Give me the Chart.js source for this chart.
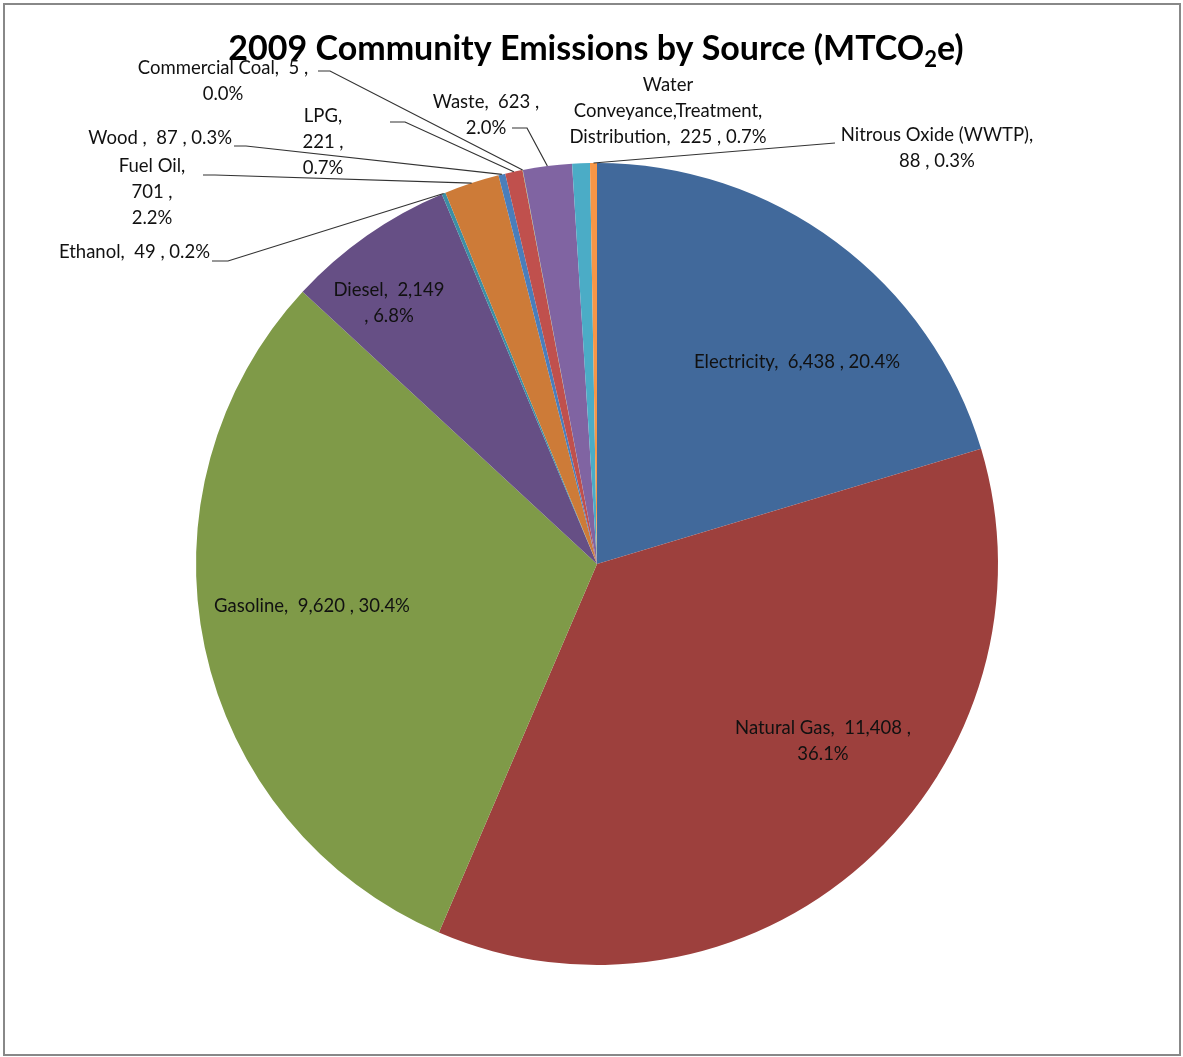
<!DOCTYPE html>
<html>
<head>
<meta charset="utf-8">
<script src="https://cdn.jsdelivr.net/npm/chart.js"></script>
<style>
    body { margin: 0; background: #ffffff; }
    #wrap { width: 1183px; height: 1057px; }
</style>
</head>
<body>
<div id="wrap"><canvas id="emissionsChart" width="1183" height="1057"></canvas></div>
<script>

// ==========================
// Data
// ==========================

const sources = [
    "Electricity", "Natural Gas", "Gasoline", "Diesel", "Ethanol", "Fuel Oil",
    "Wood", "LPG", "Commercial Coal", "Waste",
    "Water Conveyance,Treatment, Distribution", "Nitrous Oxide (WWTP)"
];

const emissions = [6438, 11408, 9620, 2149, 49, 701, 87, 221, 5, 623, 225, 88];

const sliceColors = [
    "#41699b", "#9d403d", "#7f9a48", "#664f85", "#3c8fa5", "#cd7b38",
    "#4a7ebb", "#c0504d", "#9bbb59", "#8064a2", "#4bacc6", "#f79646"
];

// ==========================
// Label layout (text placement only)
// ==========================

const labelFont = "18.5px Lato";
const lineGap = 26;

const labelLayout = [
    { tpl: "{n},  {v} , {p}",       x: 797, y: 362, align: "center" },
    { tpl: "{n},  {v} ,\n{p}",      x: 823, y: 728, align: "center" },
    { tpl: "{n},  {v} , {p}",       x: 312, y: 606, align: "center" },
    { tpl: "{n},  {v}\n, {p}",      x: 389, y: 290, align: "center" },
    { tpl: "{n},  {v} , {p}",       x: 210, y: 252, align: "right",  leader: [[212, 261], [228, 261]] },
    { tpl: "{n},\n{v} ,\n{p}",      x: 152, y: 166, align: "center", leader: [[203, 175], [215, 175]] },
    { tpl: "{n} ,  {v} , {p}",      x: 232, y: 138, align: "right",  leader: [[234, 146], [246, 146]] },
    { tpl: "{n},\n{v} ,\n{p}",      x: 323, y: 116, align: "center", leader: [[390, 122], [405, 122]] },
    { tpl: "{n},  {v} ,\n{p}",      x: 223, y: 68,  align: "center", leader: [[318, 71], [330, 71]] },
    { tpl: "{n},  {v} ,\n{p}",      x: 486, y: 102, align: "center", leader: [[512, 128], [527, 128]] },
    { tpl: "{w0}\n{w1}\n{w2},  {v} , {p}", x: 668, y: 85, align: "center" },
    { tpl: "{n},\n{v} , {p}",       x: 937, y: 135, align: "center", leader: [[835, 143]] }
];

const total = emissions.reduce((sum, v) => sum + v, 0);

function labelLines(i) {
    const words = sources[i].split(" ");
    const text = labelLayout[i].tpl
        .replace("{n}", sources[i])
        .replace("{v}", emissions[i].toLocaleString("en-US"))
        .replace("{p}", (emissions[i] / total * 100).toFixed(1) + "%")
        .replace("{w0}", words[0])
        .replace("{w1}", words[1])
        .replace("{w2}", words[2]);
    return text.split("\n");
}

// ==========================
// Plugin: frame, title, labels
// ==========================

const decorations = {
    id: "decorations",
    afterDraw(chart) {
        const ctx = chart.ctx;
        ctx.save();

        // frame
        ctx.strokeStyle = "#888888";
        ctx.lineWidth = 2;
        ctx.strokeRect(4, 4, 1176, 1051);

        // title with subscript
        const mainPart = "2009 Community Emissions by Source (MTCO";
        const subPart = "2";
        const endPart = "e)";
        ctx.fillStyle = "#000000";
        ctx.textBaseline = "alphabetic";
        ctx.font = "bold 34px Lato";
        const w1 = ctx.measureText(mainPart).width;
        const w3 = ctx.measureText(endPart).width;
        ctx.font = "bold 22px Lato";
        const w2 = ctx.measureText(subPart).width;
        let tx = 596 - (w1 + w2 + w3) / 2;
        ctx.textAlign = "left";
        ctx.font = "bold 34px Lato";
        ctx.fillText(mainPart, tx, 60);
        tx += w1;
        ctx.font = "bold 22px Lato";
        ctx.fillText(subPart, tx, 67);
        tx += w2;
        ctx.font = "bold 34px Lato";
        ctx.fillText(endPart, tx, 60);

        // leader lines
        const arcs = chart.getDatasetMeta(0).data;
        ctx.strokeStyle = "#333333";
        ctx.lineWidth = 1.2;
        labelLayout.forEach((lay, i) => {
            if (!lay.leader) return;
            const arc = arcs[i].getProps(["x", "y", "startAngle", "endAngle", "outerRadius"], true);
            const mid = (arc.startAngle + arc.endAngle) / 2;
            const ex = arc.x + Math.cos(mid) * arc.outerRadius;
            const ey = arc.y + Math.sin(mid) * arc.outerRadius;
            ctx.beginPath();
            ctx.moveTo(lay.leader[0][0], lay.leader[0][1]);
            lay.leader.slice(1).forEach(p => ctx.lineTo(p[0], p[1]));
            ctx.lineTo(ex, ey);
            ctx.stroke();
        });

        // label text
        ctx.font = labelFont;
        ctx.fillStyle = "#111111";
        ctx.textBaseline = "middle";
        labelLayout.forEach((lay, i) => {
            ctx.textAlign = lay.align;
            labelLines(i).forEach((line, k) => {
                ctx.fillText(line, lay.x, lay.y + k * lineGap);
            });
        });

        ctx.restore();
    }
};

// ==========================
// Pie Chart
// ==========================

const emissionsChart = new Chart(
    document.getElementById("emissionsChart"),
    {
        type: "pie",
        data: {
            labels: sources,
            datasets: [{
                data: emissions,
                backgroundColor: sliceColors,
                borderWidth: 0
            }]
        },
        options: {
            responsive: false,
            animation: false,
            layout: {
                padding: { top: 163, bottom: 92, left: 196, right: 185 }
            },
            plugins: {
                legend: { display: false },
                tooltip: { enabled: false },
                title: { display: false }
            }
        },
        plugins: [decorations]
    }
);

</script>
</body>
</html>
